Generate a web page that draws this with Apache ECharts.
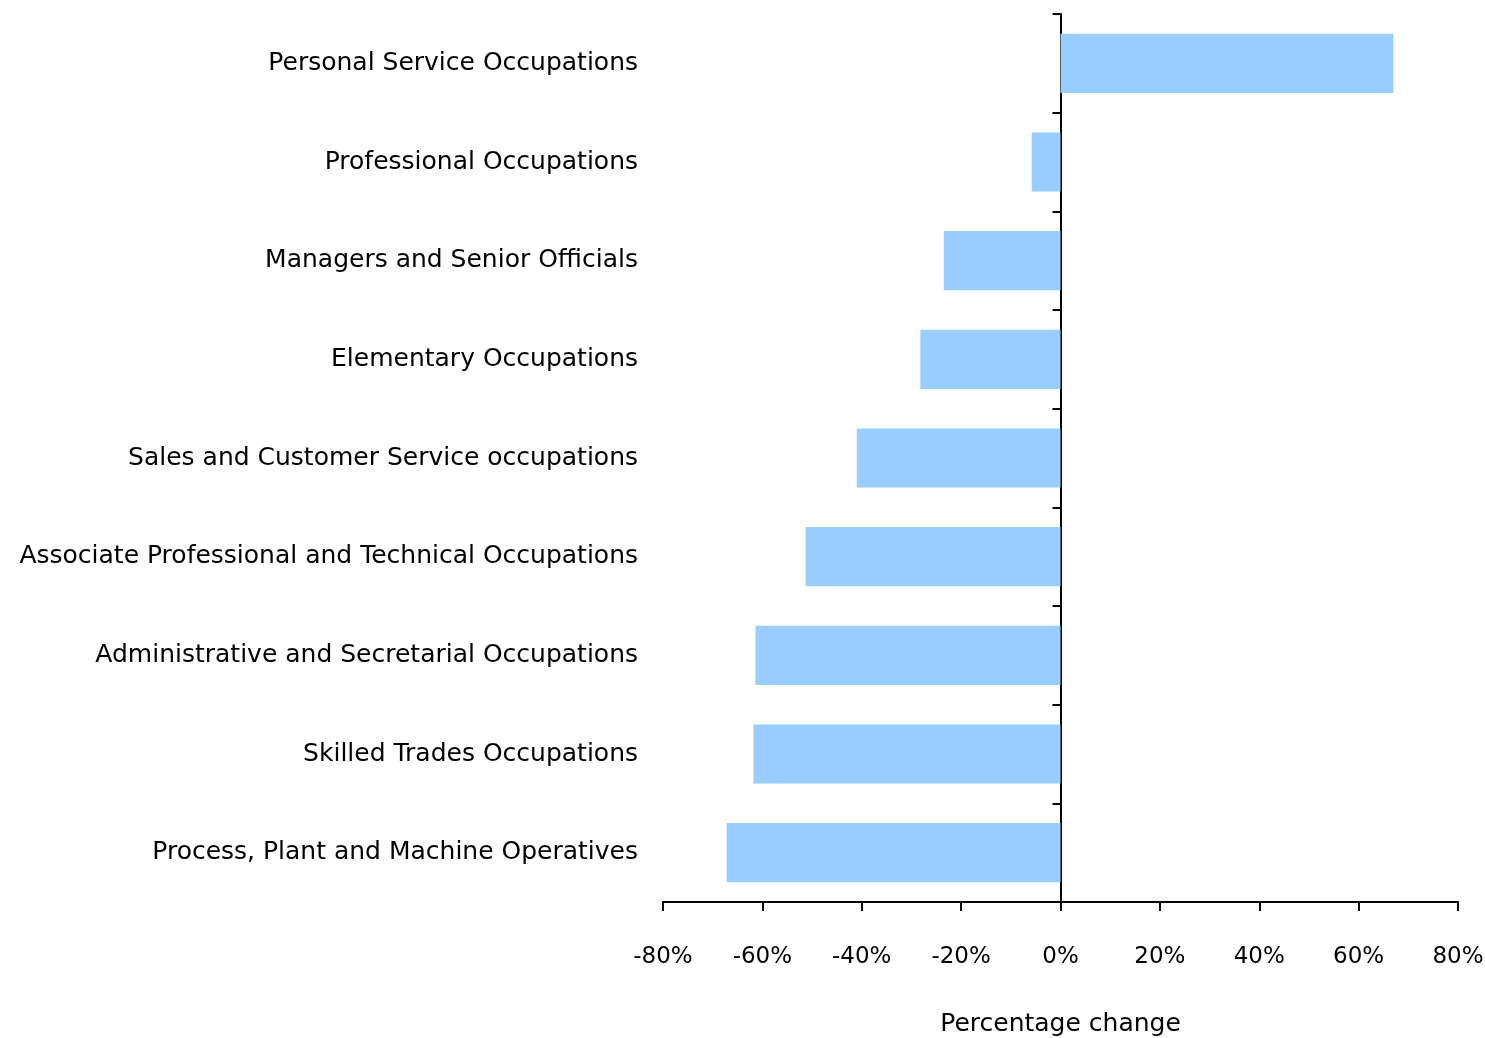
<!DOCTYPE html>
<html>
<head>
<meta charset="utf-8">
<script src="https://cdn.jsdelivr.net/npm/echarts@6/dist/echarts.min.js"></script>
<style>html,body{margin:0;padding:0;background:#fff}#c{width:1485px;height:1038px}</style>
</head>
<body>
<div id="c"></div>
<script>
const categories = [
  "Personal Service Occupations",
  "Professional Occupations",
  "Managers and Senior Officials",
  "Elementary Occupations",
  "Sales and Customer Service occupations",
  "Associate Professional and Technical Occupations",
  "Administrative and Secretarial Occupations",
  "Skilled Trades Occupations",
  "Process, Plant and Machine Operatives"
];
const values = [67.0, -5.8, -23.5, -28.2, -41.0, -51.3, -61.4, -61.8, -67.2];
const xTicks = { min: -80, max: 80, interval: 20 };
const axisName = "Percentage change";

const FONT = "DejaVu Sans";
const chart = echarts.init(document.getElementById('c'), null, { renderer: 'canvas' });
chart.setOption({
  animation: false,
  backgroundColor: '#ffffff',
  grid: { left: 663, right: 27, top: 14, bottom: 136, containLabel: false, outerBoundsMode: 'none' },
  xAxis: {
    type: 'value',
    min: xTicks.min, max: xTicks.max, interval: xTicks.interval,
    axisLine: { show: true, onZero: false, lineStyle: { color: '#000', width: 2 } },
    axisTick: { show: true, length: 9, lineStyle: { color: '#000', width: 2 } },
    splitLine: { show: false },
    axisLabel: { formatter: '{value}%', color: '#000', fontFamily: FONT, fontSize: 23, margin: 44 },
    name: axisName, nameLocation: 'middle', nameGap: 110,
    nameTextStyle: { color: '#000', fontFamily: FONT, fontSize: 25 }
  },
  yAxis: [
    {
      type: 'category', data: categories, inverse: true,
      axisLine: { show: false, onZero: false },
      axisTick: { show: false },
      axisLabel: { color: '#000', fontFamily: FONT, fontSize: 25, margin: 25 }
    },
    {
      type: 'category', data: categories, inverse: true, position: 'left',
      axisLine: { show: true, onZero: true, lineStyle: { color: '#000', width: 2 } },
      axisTick: { show: true, length: 8, lineStyle: { color: '#000', width: 2 } },
      axisLabel: { show: false }
    }
  ],
  series: [{
    type: 'bar', yAxisIndex: 0, data: values, barWidth: '60%',
    itemStyle: { color: '#99CCFF' }
  }]
});
</script>
</body>
</html>
